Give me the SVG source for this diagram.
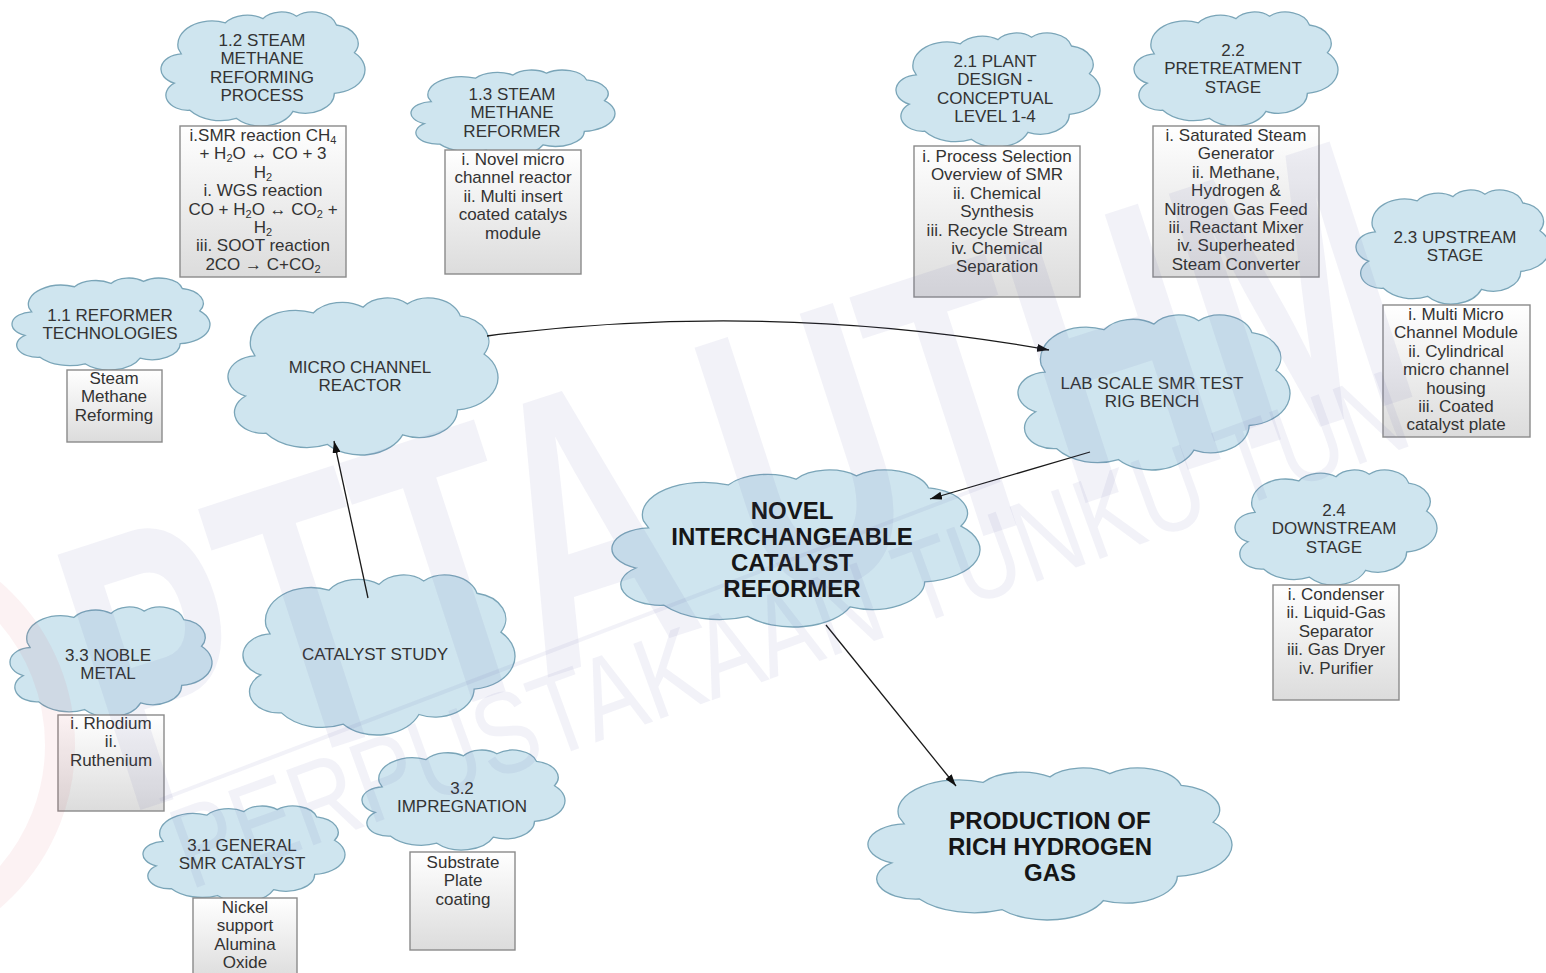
<svg xmlns="http://www.w3.org/2000/svg" width="1546" height="973" viewBox="0 0 1546 973">
  <style>
    .cloud { fill: #cfe5ef; stroke: #7aa5b8; stroke-width: 1.3; }
    .box { fill: url(#boxFill); stroke: #8a8a8a; stroke-width: 1.4; }
    .t { font-family: "Liberation Sans", Arial, sans-serif; font-size: 17px; fill: #333; text-anchor: middle; }
    .b { font-family: "Liberation Sans", Arial, sans-serif; font-size: 24px; font-weight: bold; fill: #161616; text-anchor: middle; }
    .conn { fill: none; stroke: #1a1a1a; stroke-width: 1.3; marker-end: url(#arrow); }
    .wm { font-family: "Liberation Sans", Arial, sans-serif; fill: #5b5ba6; fill-opacity: 0.08; }
  </style>
  <defs>
    <linearGradient id="boxFill" x1="0" y1="0" x2="0" y2="1">
      <stop offset="0" stop-color="#ffffff"/>
      <stop offset="1" stop-color="#dcdcdc"/>
    </linearGradient>
    <!-- cloud outline in a 100 x 100 unit box -->
    <path id="cloudShape" class="cloud" vector-effect="non-scaling-stroke"
      d="M 8.53 32.26 A 16.72 20.67 0 0 1 31.57 9.51 A 13.20 16.34 0 0 1 50.00 5.85 A 10.80 13.37 0 0 1 66.43 3.73 A 12.02 14.84 0 0 1 86.01 11.40 A 13.20 16.36 0 0 1 94.82 35.70 A 16.77 20.73 0 0 1 84.98 71.30 A 14.32 17.69 0 0 1 64.68 87.19 A 16.72 20.72 0 0 1 36.88 93.24 A 19.11 23.72 0 0 1 14.13 86.16 A 10.79 13.31 0 0 1 6.52 62.43 A 10.76 13.37 0 0 1 9.95 36.80 Z"/>
    <marker id="arrow" viewBox="0 0 12 8" refX="12" refY="4" markerWidth="12" markerHeight="8" markerUnits="userSpaceOnUse" orient="auto">
      <path d="M0,0 L12,4 L0,8 z" fill="#111"/>
    </marker>
  </defs>

  <rect width="1546" height="973" fill="#ffffff"/>

  <!-- 1.2 Steam methane reforming process -->
  <g id="n12">
    <use href="#cloudShape" transform="translate(161,12) scale(2.04,1.14)"/>
    <text class="t" x="262" y="46">1.2 STEAM</text>
    <text class="t" x="262" y="64.4">METHANE</text>
    <text class="t" x="262" y="82.8">REFORMING</text>
    <text class="t" x="262" y="101.2">PROCESS</text>
    <rect class="box" x="180" y="126" width="166" height="151"/>
    <text class="t" x="263" y="141">i.SMR reaction CH<tspan font-size="11" dy="3">4</tspan></text>
    <text class="t" x="263" y="159.4">+ H<tspan font-size="11" dy="3">2</tspan><tspan dy="-3">O ↔ CO + 3</tspan></text>
    <text class="t" x="263" y="177.8">H<tspan font-size="11" dy="3">2</tspan></text>
    <text class="t" x="263" y="196.2">i. WGS reaction</text>
    <text class="t" x="263" y="214.6">CO + H<tspan font-size="11" dy="3">2</tspan><tspan dy="-3">O ↔ CO</tspan><tspan font-size="11" dy="3">2</tspan><tspan dy="-3"> +</tspan></text>
    <text class="t" x="263" y="233">H<tspan font-size="11" dy="3">2</tspan></text>
    <text class="t" x="263" y="251.4">iii. SOOT reaction</text>
    <text class="t" x="263" y="269.8">2CO → C+CO<tspan font-size="11" dy="3">2</tspan></text>
  </g>

  <!-- 1.3 Steam methane reformer -->
  <g id="n13">
    <use href="#cloudShape" transform="translate(411,70) scale(2.04,0.86)"/>
    <text class="t" x="512" y="100">1.3 STEAM</text>
    <text class="t" x="512" y="118.4">METHANE</text>
    <text class="t" x="512" y="136.8">REFORMER</text>
    <rect class="box" x="445" y="150" width="136" height="124"/>
    <text class="t" x="513" y="165">i. Novel micro</text>
    <text class="t" x="513" y="183.4">channel reactor</text>
    <text class="t" x="513" y="201.8">ii. Multi insert</text>
    <text class="t" x="513" y="220.2">coated catalys</text>
    <text class="t" x="513" y="238.6">module</text>
  </g>

  <!-- 2.1 Plant design -->
  <g id="n21">
    <use href="#cloudShape" transform="translate(896,33) scale(2.04,1.14)"/>
    <text class="t" x="995" y="67">2.1 PLANT</text>
    <text class="t" x="995" y="85.4">DESIGN -</text>
    <text class="t" x="995" y="103.8">CONCEPTUAL</text>
    <text class="t" x="995" y="122.2">LEVEL 1-4</text>
    <rect class="box" x="914" y="146" width="166" height="151"/>
    <text class="t" x="997" y="162">i. Process Selection</text>
    <text class="t" x="997" y="180.4">Overview of SMR</text>
    <text class="t" x="997" y="198.8">ii. Chemical</text>
    <text class="t" x="997" y="217.2">Synthesis</text>
    <text class="t" x="997" y="235.6">iii. Recycle Stream</text>
    <text class="t" x="997" y="254">iv. Chemical</text>
    <text class="t" x="997" y="272.4">Separation</text>
  </g>

  <!-- 2.2 Pretreatment stage -->
  <g id="n22">
    <use href="#cloudShape" transform="translate(1134,12) scale(2.04,1.14)"/>
    <text class="t" x="1233" y="56">2.2</text>
    <text class="t" x="1233" y="74.4">PRETREATMENT</text>
    <text class="t" x="1233" y="92.8">STAGE</text>
    <rect class="box" x="1153" y="126" width="166" height="151"/>
    <text class="t" x="1236" y="141">i. Saturated Steam</text>
    <text class="t" x="1236" y="159.4">Generator</text>
    <text class="t" x="1236" y="177.8">ii. Methane,</text>
    <text class="t" x="1236" y="196.2">Hydrogen &amp;</text>
    <text class="t" x="1236" y="214.6">Nitrogen Gas Feed</text>
    <text class="t" x="1236" y="233">iii. Reactant Mixer</text>
    <text class="t" x="1236" y="251.4">iv. Superheated</text>
    <text class="t" x="1236" y="269.8">Steam Converter</text>
  </g>

  <!-- 2.3 Upstream stage -->
  <g id="n23">
    <use href="#cloudShape" transform="translate(1356,190) scale(1.94,1.14)"/>
    <text class="t" x="1455" y="243">2.3 UPSTREAM</text>
    <text class="t" x="1455" y="261.4">STAGE</text>
    <rect class="box" x="1383" y="305" width="147" height="132"/>
    <text class="t" x="1456" y="320">i. Multi Micro</text>
    <text class="t" x="1456" y="338.4">Channel Module</text>
    <text class="t" x="1456" y="356.8">ii. Cylindrical</text>
    <text class="t" x="1456" y="375.2">micro channel</text>
    <text class="t" x="1456" y="393.6">housing</text>
    <text class="t" x="1456" y="412">iii. Coated</text>
    <text class="t" x="1456" y="430.4">catalyst plate</text>
  </g>

  <!-- 1.1 Reformer technologies -->
  <g id="n11">
    <use href="#cloudShape" transform="translate(12,278) scale(1.98,0.92)"/>
    <text class="t" x="110" y="321">1.1 REFORMER</text>
    <text class="t" x="110" y="339.4">TECHNOLOGIES</text>
    <rect class="box" x="67" y="370" width="95" height="72"/>
    <text class="t" x="114" y="384">Steam</text>
    <text class="t" x="114" y="402.4">Methane</text>
    <text class="t" x="114" y="420.8">Reforming</text>
  </g>

  <!-- Micro channel reactor -->
  <g id="microReactor">
    <use href="#cloudShape" transform="translate(228,298) scale(2.70,1.57)"/>
    <text class="t" x="360" y="373">MICRO CHANNEL</text>
    <text class="t" x="360" y="391.4">REACTOR</text>
  </g>

  <!-- Lab scale test rig -->
  <g id="labRig">
    <use href="#cloudShape" transform="translate(1018,315) scale(2.72,1.55)"/>
    <text class="t" x="1152" y="389">LAB SCALE SMR TEST</text>
    <text class="t" x="1152" y="407.4">RIG BENCH</text>
  </g>

  <!-- Central reformer -->
  <g id="novelReformer">
    <use href="#cloudShape" transform="translate(612,470) scale(3.68,1.57)"/>
    <text class="b" x="792" y="518.6">NOVEL</text>
    <text class="b" x="792" y="544.6">INTERCHANGEABLE</text>
    <text class="b" x="792" y="570.6">CATALYST</text>
    <text class="b" x="792" y="596.6">REFORMER</text>
  </g>

  <!-- 2.4 Downstream stage -->
  <g id="n24">
    <use href="#cloudShape" transform="translate(1235,470) scale(2.02,1.15)"/>
    <text class="t" x="1334" y="516">2.4</text>
    <text class="t" x="1334" y="534.4">DOWNSTREAM</text>
    <text class="t" x="1334" y="552.8">STAGE</text>
    <rect class="box" x="1273" y="585" width="126" height="115"/>
    <text class="t" x="1336" y="600">i. Condenser</text>
    <text class="t" x="1336" y="618.4">ii. Liquid-Gas</text>
    <text class="t" x="1336" y="636.8">Separator</text>
    <text class="t" x="1336" y="655.2">iii. Gas Dryer</text>
    <text class="t" x="1336" y="673.6">iv. Purifier</text>
  </g>

  <!-- Catalyst study -->
  <g id="catalystStudy">
    <use href="#cloudShape" transform="translate(243,575) scale(2.72,1.60)"/>
    <text class="t" x="375" y="660">CATALYST STUDY</text>
  </g>

  <!-- 3.3 Noble metal -->
  <g id="n33">
    <use href="#cloudShape" transform="translate(10,607) scale(2.02,1.10)"/>
    <text class="t" x="108" y="661">3.3 NOBLE</text>
    <text class="t" x="108" y="679.4">METAL</text>
    <rect class="box" x="58" y="715" width="106" height="96"/>
    <text class="t" x="111" y="729">i. Rhodium</text>
    <text class="t" x="111" y="747.4">ii.</text>
    <text class="t" x="111" y="765.8">Ruthenium</text>
  </g>

  <!-- 3.2 Impregnation -->
  <g id="n32">
    <use href="#cloudShape" transform="translate(362,750) scale(2.03,1.00)"/>
    <text class="t" x="462" y="794">3.2</text>
    <text class="t" x="462" y="812.4">IMPREGNATION</text>
    <rect class="box" x="410" y="852" width="105" height="98"/>
    <text class="t" x="463" y="868">Substrate</text>
    <text class="t" x="463" y="886.4">Plate</text>
    <text class="t" x="463" y="904.8">coating</text>
  </g>

  <!-- 3.1 General SMR catalyst -->
  <g id="n31">
    <use href="#cloudShape" transform="translate(143,806) scale(2.02,0.96)"/>
    <text class="t" x="242" y="851">3.1 GENERAL</text>
    <text class="t" x="242" y="869.4">SMR CATALYST</text>
    <rect class="box" x="193" y="898" width="104" height="82"/>
    <text class="t" x="245" y="913">Nickel</text>
    <text class="t" x="245" y="931.4">support</text>
    <text class="t" x="245" y="949.8">Alumina</text>
    <text class="t" x="245" y="968.2">Oxide</text>
  </g>

  <!-- Output -->
  <g id="richHydrogen">
    <use href="#cloudShape" transform="translate(868,768) scale(3.64,1.52)"/>
    <text class="b" x="1050" y="828.6">PRODUCTION OF</text>
    <text class="b" x="1050" y="854.6">RICH HYDROGEN</text>
    <text class="b" x="1050" y="880.6">GAS</text>
  </g>

  <!-- connectors -->
  <g id="connectors">
    <path class="conn" d="M 487 336 Q 770 300 1049 350"/>
    <path class="conn" d="M 1090 452 L 930 499"/>
    <path class="conn" d="M 368 598 L 334 441"/>
    <path class="conn" d="M 826 625 L 956 786"/>
  </g>

  <!-- library stamp across the page -->
  <g id="stamp" class="wm">
    <text transform="translate(125,815) rotate(-18) scale(0.62,1)" font-size="390" font-weight="bold">PTTA UTHM</text>
    <text transform="translate(190,890) rotate(-20) scale(0.8,1)" font-size="116">PERPUSTAKAAN TUNKU TUN</text>
    <line x1="160" y1="800" x2="1000" y2="480" stroke="#5b5ba6" stroke-opacity="0.08" stroke-width="4"/>
    <circle cx="-140" cy="745" r="200" fill="none" stroke="#d04050" stroke-opacity="0.07" stroke-width="30"/>
  </g>
</svg>
